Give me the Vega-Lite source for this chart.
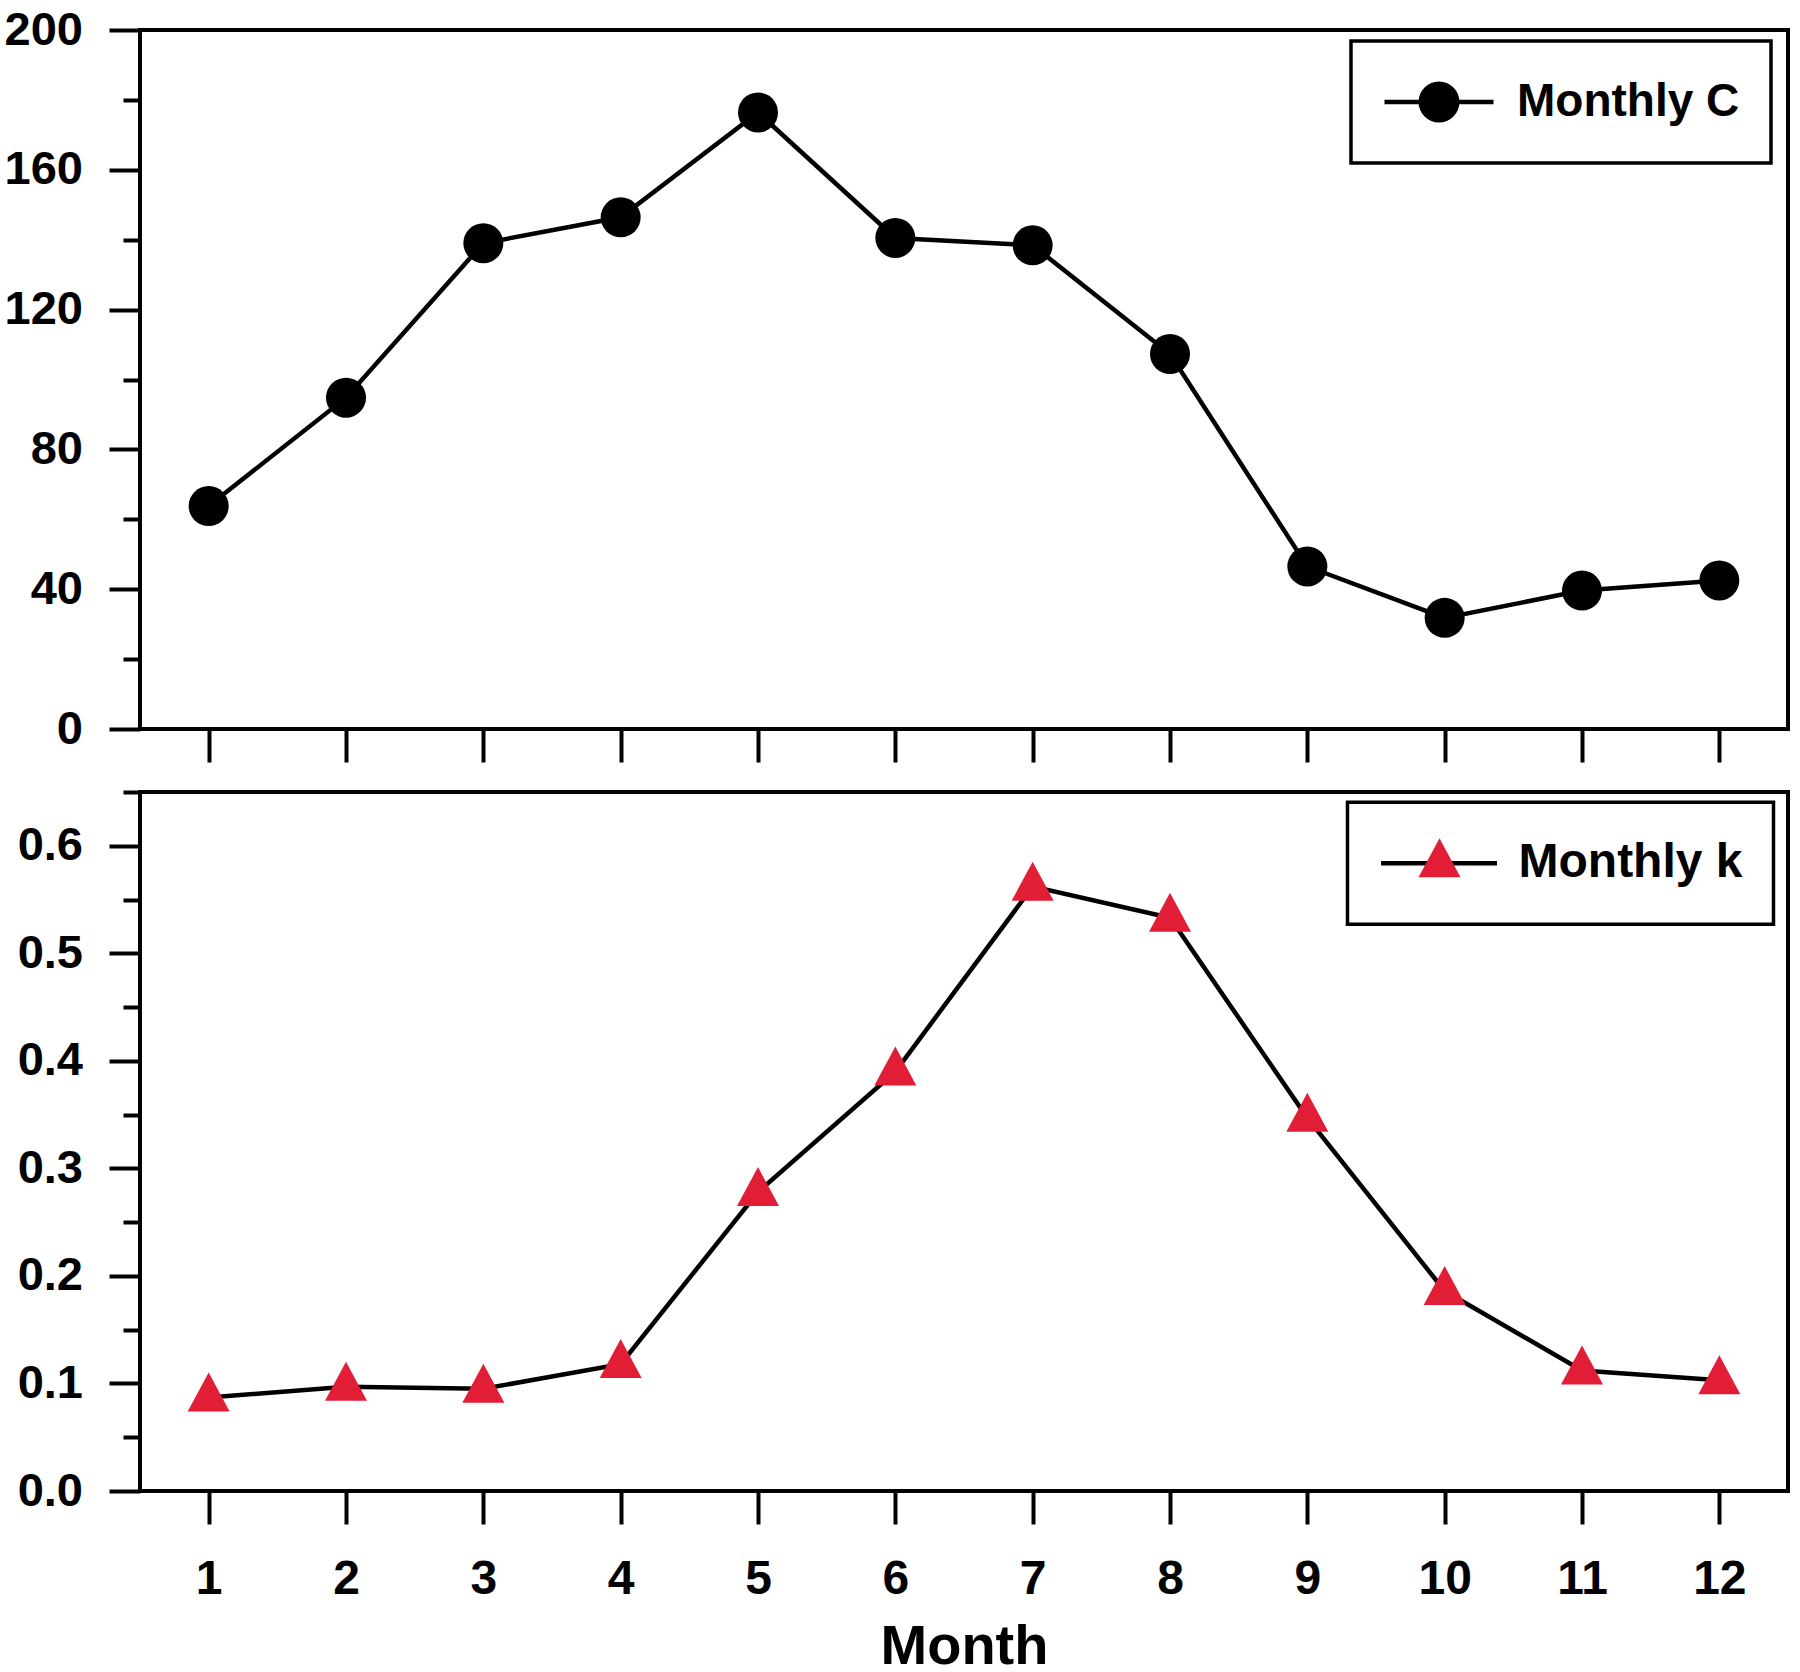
{
  "$schema": "https://vega.github.io/schema/vega-lite/v6.json",
  "background": "white",
  "autosize": {"type": "pad"},
  "padding": {"left": 2, "top": 4, "right": 0, "bottom": 0},
  "spacing": 22,
  "data": {
    "values": [
      {"month": 1, "C": 63.8, "k": 0.087},
      {"month": 2, "C": 94.8, "k": 0.097},
      {"month": 3, "C": 139.0, "k": 0.095},
      {"month": 4, "C": 146.4, "k": 0.118},
      {"month": 5, "C": 176.4, "k": 0.278},
      {"month": 6, "C": 140.5, "k": 0.390},
      {"month": 7, "C": 138.4, "k": 0.562},
      {"month": 8, "C": 107.3, "k": 0.533},
      {"month": 9, "C": 46.5, "k": 0.347},
      {"month": 10, "C": 31.8, "k": 0.186},
      {"month": 11, "C": 39.6, "k": 0.112},
      {"month": 12, "C": 42.5, "k": 0.103}
    ]
  },
  "resolve": {"scale": {"stroke": "independent", "color": "independent", "shape": "independent"}},
  "vconcat": [
    {
      "width": 1648,
      "height": 699,
      "encoding": {
        "x": {
          "field": "month", "type": "quantitative",
          "scale": {"domain": [0.5, 12.5], "nice": false, "zero": false},
          "axis": {"values": [1,2,3,4,5,6,7,8,9,10,11,12], "labels": false, "tickSize": 33, "title": null}
        },
        "y": {
          "field": "C", "type": "quantitative",
          "scale": {"domain": [0, 200], "nice": false},
          "axis": {
            "values": [0,20,40,60,80,100,120,140,160,180,200],
            "labelExpr": "datum.value % 40 === 0 ? datum.label : ''",
            "tickSize": {"condition": {"test": "datum.value % 40 === 0", "value": 31}, "value": 17},
            "labelPadding": 26.5,
            "labelFontSize": 47,
            "title": null
          }
        }
      },
      "layer": [
        {
          "mark": {"type": "line", "strokeWidth": 4.5},
          "encoding": {
            "stroke": {
              "datum": "Monthly C",
              "scale": {"range": ["black"]},
              "legend": {
                "title": null, "orient": "none", "legendX": 1211, "legendY": 11,
                "symbolType": "stroke", "symbolSize": 11881, "symbolStrokeWidth": 4.5, "symbolStrokeColor": "black",
                "labelFontSize": 46, "labelOffset": 21, "labelLimit": 500, "padding": 31, "clipHeight": 60,
                "strokeColor": "black", "fillColor": "white",
                "encode": {"legend": {"update": {"strokeWidth": {"value": 3.5}}}}
              }
            }
          }
        },
        {
          "mark": {"type": "point", "filled": true, "shape": "circle", "size": 1600, "opacity": 1},
          "encoding": {
            "color": {
              "datum": "C marker",
              "scale": {"range": ["black"]},
              "legend": {
                "title": null, "orient": "none", "legendX": 1211, "legendY": 11,
                "symbolType": "circle", "symbolSize": 1681, "symbolOffset": 34, "symbolOpacity": 1, "symbolStrokeWidth": 0,
                "labelFontSize": 46, "labelOffset": 21, "labelExpr": "''", "padding": 31, "clipHeight": 60
              }
            }
          }
        }
      ]
    },
    {
      "width": 1648,
      "height": 699,
      "encoding": {
        "x": {
          "field": "month", "type": "quantitative",
          "scale": {"domain": [0.5, 12.5], "nice": false, "zero": false},
          "axis": {
            "values": [1,2,3,4,5,6,7,8,9,10,11,12], "tickSize": 33, "labelPadding": 31, "labelFontSize": 48,
            "title": "Month", "titleFontSize": 56, "titlePadding": 16
          }
        },
        "y": {
          "field": "k", "type": "quantitative",
          "scale": {"domain": [0, 0.65], "nice": false},
          "axis": {
            "values": [0,0.05,0.1,0.15,0.2,0.25,0.3,0.35,0.4,0.45,0.5,0.55,0.6,0.65],
            "labelExpr": "round(datum.value * 100) % 10 === 0 ? format(datum.value, '.1f') : ''",
            "tickSize": {"condition": {"test": "round(datum.value * 100) % 10 === 0", "value": 31}, "value": 17},
            "labelPadding": 26.5,
            "labelFontSize": 47,
            "title": null
          }
        }
      },
      "layer": [
        {
          "mark": {"type": "line", "strokeWidth": 4.5},
          "encoding": {
            "stroke": {
              "datum": "Monthly k",
              "scale": {"range": ["black"]},
              "legend": {
                "title": null, "orient": "none", "legendX": 1207.5, "legendY": 10.3,
                "symbolType": "stroke", "symbolSize": 13456, "symbolStrokeWidth": 4.5, "symbolStrokeColor": "black",
                "labelFontSize": 48, "labelOffset": 19, "labelLimit": 500, "padding": 31, "clipHeight": 60,
                "strokeColor": "black", "fillColor": "white",
                "encode": {"legend": {"update": {"strokeWidth": {"value": 3.5}}}}
              }
            }
          }
        },
        {
          "mark": {"type": "point", "filled": true, "size": 1764, "opacity": 1, "color": "#e21e36"},
          "encoding": {
            "shape": {
              "datum": "k marker",
              "scale": {"range": ["M0,-1.19L1,0.667L-1,0.667Z"]},
              "legend": {
                "title": null, "orient": "none", "legendX": 1207.5, "legendY": 10.3,
                "symbolSize": 1764, "symbolOffset": 37, "symbolOpacity": 1, "symbolStrokeWidth": 0,
                "symbolFillColor": "#e21e36",
                "labelFontSize": 48, "labelOffset": 19, "labelExpr": "''", "padding": 31, "clipHeight": 60
              }
            }
          }
        }
      ]
    }
  ],
  "config": {
    "view": {"stroke": "black", "strokeWidth": 4},
    "axis": {
      "grid": false, "domain": false,
      "labelFont": "Liberation Sans", "labelFontWeight": "bold", "labelColor": "black",
      "tickColor": "black", "tickWidth": 4,
      "titleFont": "Liberation Sans", "titleFontWeight": "bold", "titleColor": "black"
    },
    "legend": {"labelFont": "Liberation Sans", "labelFontWeight": "bold", "labelColor": "black"}
  }
}
